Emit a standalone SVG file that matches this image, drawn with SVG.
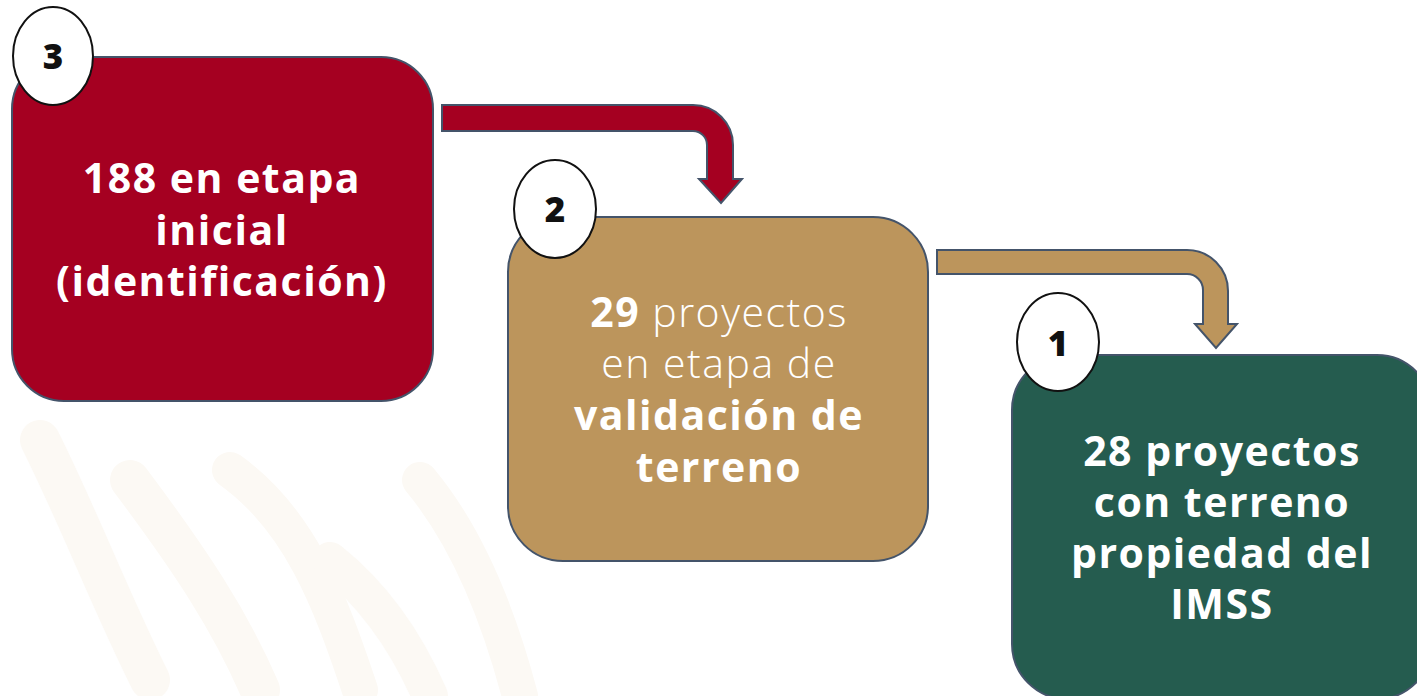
<svg xmlns="http://www.w3.org/2000/svg" width="1417" height="696" viewBox="0 0 1417 696">
  <style>
    .bg { fill: #ffffff; }
    .wm { fill: none; stroke: #fcf9f4; stroke-linecap: round; }
    .box { stroke: #44546A; stroke-width: 2; }
    .red { fill: #A50021; }
    .gold { fill: #BC955C; }
    .green { fill: #255C4F; }
    .badge { fill: #ffffff; stroke: #111111; stroke-width: 2; }
    .num { font-family: "Open Sans", "Liberation Sans", sans-serif; font-weight: 800; font-size: 35px; fill: #111111; text-anchor: middle; }
    .lbl { font-family: "Open Sans", "Liberation Sans", sans-serif; font-weight: 700; font-size: 41px; letter-spacing: 1.5px; fill: #ffffff; text-anchor: middle; }
    .light { font-weight: 300; }
  </style>
  <rect class="bg" x="0" y="0" width="1417" height="696"/>
  <g id="watermark">
    <path class="wm" stroke-width="40" d="M40,440 C80,520 110,600 150,680"/>
    <path class="wm" stroke-width="40" d="M130,480 C190,560 230,620 260,690"/>
    <path class="wm" stroke-width="36" d="M230,470 C300,520 330,600 360,690"/>
    <path class="wm" stroke-width="36" d="M330,560 C380,600 410,650 430,696"/>
    <path class="wm" stroke-width="36" d="M420,480 C470,540 500,620 520,696"/>
    <path class="wm" stroke-width="30" d="M1180,620 C1200,650 1210,670 1215,696"/>
    <path class="wm" stroke-width="30" d="M1270,600 C1280,640 1285,670 1288,696"/>
  </g>
  <g id="connectors">
    <path class="box red" d="M442,105 H693 A40,40 0 0 1 733,145 V179 H742 L721,203 L699,179 H707 V145 A14,14 0 0 0 693,131 H442 Z"/>
    <path class="box gold" d="M937,250 H1187 A41,41 0 0 1 1228,291 V324 H1237 L1216,348 L1195,324 H1203 V290 A16,16 0 0 0 1187,274 H937 Z"/>
  </g>
  <g id="node3">
    <rect class="box red" x="12" y="57" width="421" height="344" rx="52" ry="52"/>
    <text class="lbl" x="222" y="193">188 en etapa</text>
    <text class="lbl" x="222" y="245">inicial</text>
    <text class="lbl" x="222" y="296">(identificación)</text>
  </g>
  <g id="badge3">
    <ellipse class="badge" cx="53" cy="56" rx="40" ry="49"/>
    <text class="num" x="53" y="69">3</text>
  </g>
  <g id="node2">
    <rect class="box gold" x="508" y="217" width="420" height="344" rx="55" ry="55"/>
    <text class="lbl" x="719" y="327">29 <tspan class="light">proyectos</tspan></text>
    <text class="lbl light" x="719" y="378">en etapa de</text>
    <text class="lbl" x="719" y="430">validación de</text>
    <text class="lbl" x="719" y="482">terreno</text>
  </g>
  <g id="badge2">
    <ellipse class="badge" cx="555" cy="209" rx="41" ry="49"/>
    <text class="num" x="555" y="222">2</text>
  </g>
  <g id="node1">
    <rect class="box green" x="1012" y="355" width="420" height="344" rx="55" ry="55"/>
    <text class="lbl" x="1222" y="466">28 proyectos</text>
    <text class="lbl" x="1222" y="517">con terreno</text>
    <text class="lbl" x="1222" y="568">propiedad del</text>
    <text class="lbl" x="1222" y="619">IMSS</text>
  </g>
  <g id="badge1">
    <ellipse class="badge" cx="1058" cy="342" rx="41" ry="49"/>
    <text class="num" x="1058" y="356">1</text>
  </g>
</svg>
